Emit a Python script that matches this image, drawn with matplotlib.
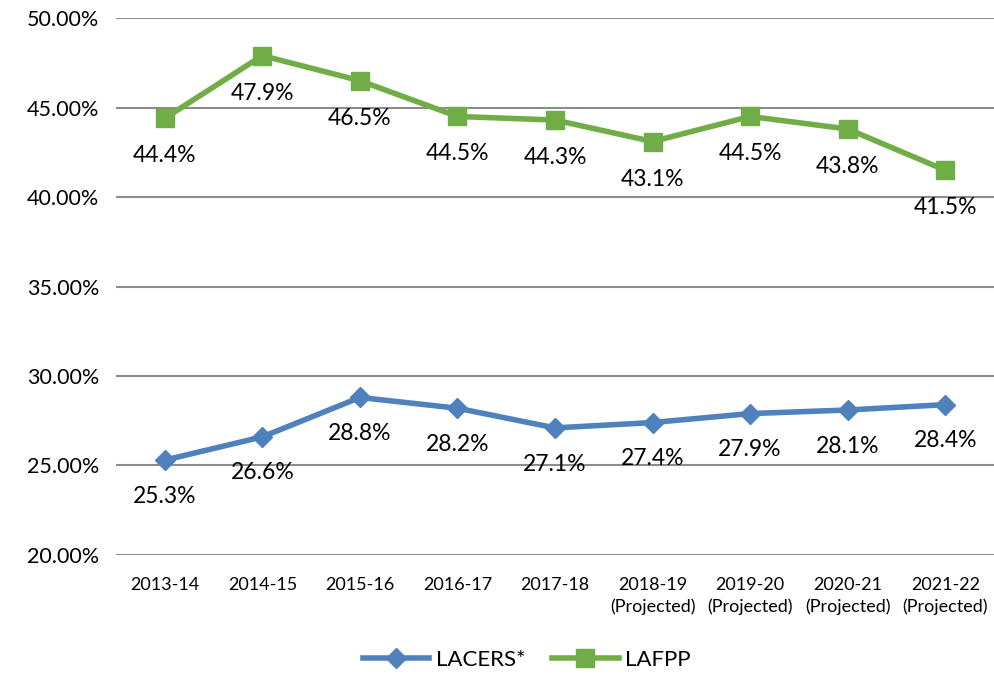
import matplotlib.pyplot as plt
from matplotlib import rcParams
from matplotlib.ticker import FuncFormatter

rcParams['font.family'] = ['Lato', 'DejaVu Sans']

years = ['2013-14', '2014-15', '2015-16', '2016-17', '2017-18',
         '2018-19\n(Projected)', '2019-20\n(Projected)',
         '2020-21\n(Projected)', '2021-22\n(Projected)']
lacers = [25.3, 26.6, 28.8, 28.2, 27.1, 27.4, 27.9, 28.1, 28.4]
lafpp = [44.4, 47.9, 46.5, 44.5, 44.3, 43.1, 44.5, 43.8, 41.5]

blue = '#4F81BD'
green = '#70AD47'

fig = plt.figure(figsize=(9.94, 6.75), dpi=100)
ax = fig.add_axes([0.1167, 0.1778, 0.8833, 0.7955])

x = range(len(years))
ax.plot(x, lacers, color=blue, lw=4, marker='D', ms=10, label='LACERS*',
        zorder=3)
ax.plot(x, lafpp, color=green, lw=4, marker='s', ms=13, label='LAFPP',
        zorder=3)

for xi, v in zip(x, lacers):
    ax.annotate(f'{v:.1f}%', (xi, v), xytext=(0, -26), textcoords='offset points',
                ha='center', va='center', fontsize=16.5, color='black')
for xi, v in zip(x, lafpp):
    ax.annotate(f'{v:.1f}%', (xi, v), xytext=(0, -27), textcoords='offset points',
                ha='center', va='center', fontsize=16.5, color='black')

ax.set_xlim(-0.5, len(years) - 0.5)
ax.set_ylim(20, 50)
ax.set_yticks(range(20, 51, 5))
ax.yaxis.set_major_formatter(FuncFormatter(lambda v, p: f'{v:.2f}%'))
ax.set_xticks(list(x))
ax.set_xticklabels(years, fontsize=13, linespacing=1.35)
ax.tick_params(axis='y', labelsize=15.5, length=0, pad=12)
ax.tick_params(axis='x', length=0, pad=16)
ax.grid(axis='y', color='#8c8c8c', lw=1.5)
ax.set_axisbelow(True)
for s in ax.spines.values():
    s.set_visible(False)

fig.legend(loc='lower center', bbox_to_anchor=(0.53, -0.022), ncol=2,
           frameon=False, fontsize=16, handlelength=3, columnspacing=1.2,
           handletextpad=0.3)

fig.savefig('out.png', dpi=100)
